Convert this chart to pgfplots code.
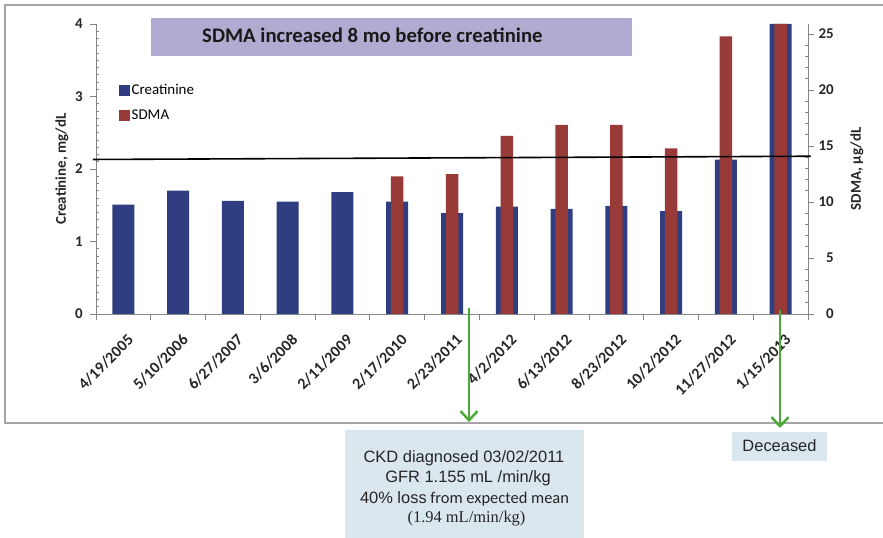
\documentclass[border=0pt]{standalone}
\usepackage{fontspec}
\setmainfont{Carlito}
\newfontfamily\arialfont{Liberation Sans}
\newfontfamily\timesfont{Liberation Serif}
\usepackage{pgfplots}
\pgfplotsset{compat=1.18}
\usetikzlibrary{arrows.meta}

\definecolor{crblue}{RGB}{46,62,128}
\definecolor{sdred}{RGB}{152,58,56}
\definecolor{axgray}{RGB}{134,134,134}
\definecolor{framegray}{RGB}{165,165,165}
\definecolor{titlebox}{RGB}{179,170,209}
\definecolor{notebox}{RGB}{219,231,239}
\definecolor{arrowgreen}{RGB}{76,168,56}

\pgfplotsset{
  twin/.style={
    scale only axis, width=712bp, height=290bp,
    at={(96bp,224bp)}, anchor=south west,
    xmin=-0.5, xmax=12.5,
    tick align=inside, major tick length=-6bp, minor tick length=3bp,
    axis line style={axgray, line width=0.8bp},
    tick style={axgray, line width=0.8bp},
    /pgf/number format/assume math mode=true,
    ticklabel style={font=\bfseries\fontsize{15}{15}\selectfont, text=black!85},
  }
}

\begin{document}
\begin{tikzpicture}
\useasboundingbox (0,0) rectangle (883bp,538bp);
\draw[framegray, line width=1.2bp] (890bp,533bp) -- (5bp,533bp) -- (5bp,115bp) -- (890bp,115bp);

% creatinine, left axis
\begin{axis}[twin,
  axis x line*=bottom, axis y line*=left,
  ymin=0, ymax=4, ytick={0,1,2,3,4}, minor y tick num=9,
  xtick={-0.5,0.5,...,12.5}, xticklabels={},
  extra x ticks={0,1,2,3,4,5,6,7,8,9,10,11,12},
  extra x tick labels={4/19/2005,5/10/2006,6/27/2007,3/6/2008,2/11/2009,2/17/2010,2/23/2011,4/2/2012,6/13/2012,8/23/2012,10/2/2012,11/27/2012,1/15/2013},
  extra x tick style={major tick length=0pt, tick style={draw=none},
    xticklabel style={xshift=3bp, yshift=-19bp, rotate=45, anchor=north east, inner sep=0pt,
      font=\bfseries\fontsize{16}{16}\selectfont}},
  yticklabel style={anchor=east, inner sep=0pt, xshift=-13bp},
  ylabel={Creatinine, mg/dL},
  ylabel style={at={(axis description cs:-0.0478,0.5)}, anchor=center,
    font=\bfseries\fontsize{15}{15}\selectfont, text=black!85},
  legend style={at={(axis description cs:0.0323,0.798)}, anchor=north west,
    draw=none, fill=none, inner sep=0pt, row sep=11bp,
    font=\fontsize{15}{15}\selectfont, nodes={inner sep=1.5bp}},
  legend cell align=left,
  legend image code/.code={\fill[#1] (0bp,-5.5bp) rectangle (11bp,5.5bp);},
]
\addplot[ybar, bar width=22bp, fill=crblue, draw=none] coordinates {
  (0,1.51) (1,1.70) (2,1.56) (3,1.55) (4,1.68) (5,1.55) (6,1.39)
  (7,1.48) (8,1.45) (9,1.49) (10,1.42) (11,2.13) (12,4.00)};
\addlegendentry{Creatinine}
\addlegendimage{fill=sdred, draw=none}
\addlegendentry{SDMA}
\end{axis}

% SDMA, right axis
\begin{axis}[twin,
  axis y line*=right, axis x line=none,
  ymin=0, ymax=25.9, ytick={0,5,10,15,20,25}, minor y tick num=4,
  clip=false,
  yticklabel style={anchor=east, inner sep=0pt, xshift=26bp},
  ylabel={SDMA, μg/dL},
  ylabel style={at={(axis description cs:1.0688,0.5)}, anchor=center,
    font=\bfseries\fontsize{15}{15}\selectfont, text=black!85},
]
\addplot[ybar, bar width=12.5bp, fill=sdred, draw=none] coordinates {
  (5,12.3) (6,12.5) (7,15.9) (8,16.9) (9,16.9) (10,14.8) (11,24.8) (12,25.9)};
% reference level for SDMA
\addplot[black, line width=1.6bp] coordinates {(-0.555,13.8) (12.55,14.09)};
\end{axis}

% headline
\fill[titlebox] (151bp,482.3bp) rectangle (632bp,519.7bp);
\node[anchor=base west, inner sep=0pt, font=\bfseries\fontsize{20.8}{20.8}\selectfont, text=black!90]
  at (202bp,495bp) {SDMA increased 8 mo before creatinine};

% event arrows
\draw[arrowgreen, line width=2.5bp, -{Straight Barb[length=9bp,width=17bp]}] (469bp,230bp) -- (469bp,116bp);
\draw[arrowgreen, line width=2.5bp, -{Straight Barb[length=9bp,width=17bp]}] (780bp,228bp) -- (780bp,110bp);

% notes
\fill[notebox] (345bp,-2bp) rectangle (584bp,108bp);
\node[anchor=base, inner sep=0pt, text=black!85, font=\arialfont\fontsize{16.5}{16.5}\selectfont]
  at (464bp,75bp) {CKD diagnosed 03/02/2011};
\node[anchor=base, inner sep=0pt, text=black!85, font=\arialfont\fontsize{16.5}{16.5}\selectfont]
  at (468bp,55bp) {GFR 1.155 mL /min/kg};
\node[anchor=base, inner sep=0pt, text=black!85, font=\fontsize{16.5}{16.5}\selectfont]
  at (464.5bp,35bp) {{\arialfont 40\% loss} from expected mean};
\node[anchor=base, inner sep=0pt, text=black!85, font=\timesfont\fontsize{16.5}{16.5}\selectfont]
  at (466.5bp,16bp) {(1.94 mL/min/kg)};

\fill[notebox] (732bp,77bp) rectangle (827bp,106bp);
\node[anchor=base, inner sep=0pt, text=black!85, font=\arialfont\fontsize{16.5}{16.5}\selectfont]
  at (779.5bp,86bp) {Deceased};
\end{tikzpicture}
\end{document}
